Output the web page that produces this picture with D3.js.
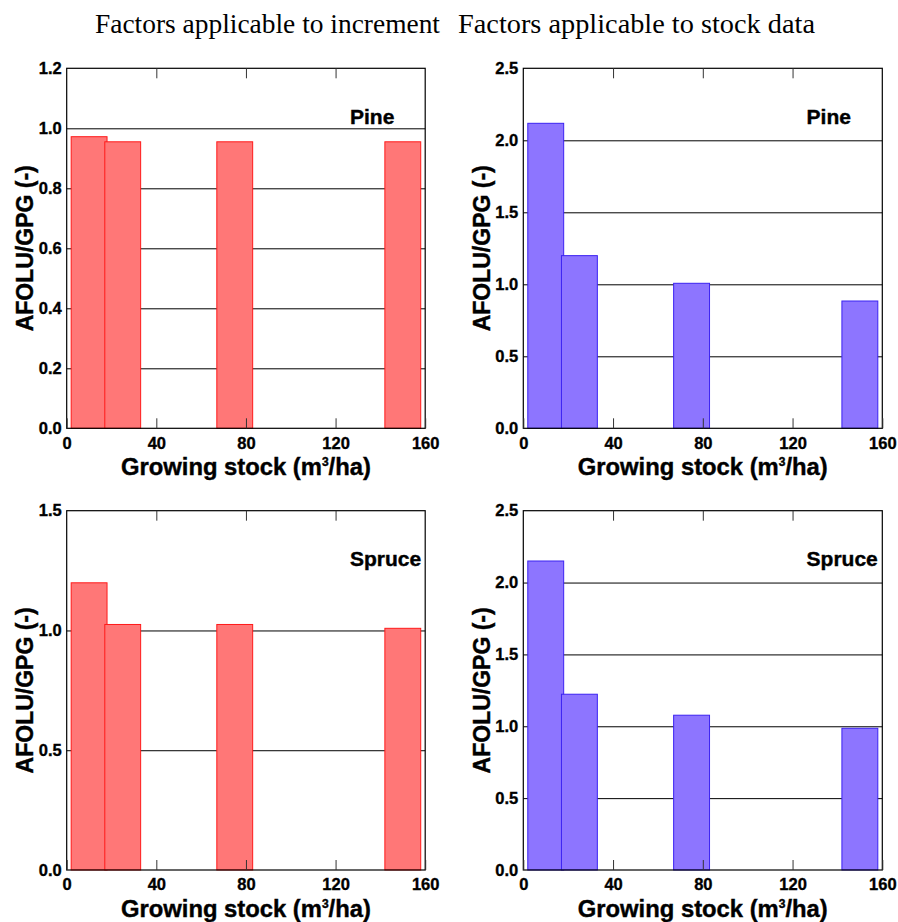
<!DOCTYPE html>
<html>
<head>
<meta charset="utf-8">
<script src="https://cdn.jsdelivr.net/npm/d3@7"></script>
<style>
  html, body { margin: 0; padding: 0; background: #fff; }
  svg { display: block; }
  .tick text { font-family: "Liberation Sans", Arial, sans-serif; font-weight: bold; font-size: 16.5px; fill: #000; stroke: #000; stroke-width: 0.35px; }
  .heavy { font-family: "Liberation Sans", Arial, sans-serif; font-weight: bold; fill: #000; stroke: #000; stroke-width: 0.4px; }
</style>
</head>
<body>
<svg id="chart" width="898" height="922"></svg>
<script>
// Growing stock classes (m3/ha): centre of each class bar
const stockClasses = [10, 25, 75, 150];
const classHalfWidth = 8;

// AFOLU/GPG ratio per growing stock class
const pineIncrement   = [0.972, 0.955, 0.955, 0.955];
const pineStock       = [2.118, 1.199, 1.007, 0.884];
const spruceIncrement = [1.199, 1.025, 1.025, 1.009];
const spruceStock     = [2.150, 1.223, 1.077, 0.986];

// Axis ticks
const xTicks = [0, 40, 80, 120, 160];
const yTicksPineIncrement = [0, 0.2, 0.4, 0.6, 0.8, 1.0, 1.2];
const yTicksHalf15 = [0, 0.5, 1.0, 1.5];
const yTicksHalf25 = [0, 0.5, 1.0, 1.5, 2.0, 2.5];

const columnTitles = ["Factors applicable to increment", "Factors applicable to stock data"];
const speciesNames = ["Pine", "Spruce"];

const svg = d3.select("#chart");

const redStyle  = { fill: "#ff7777", stroke: "#ff1a1a" };
const blueStyle = { fill: "#8d75ff", stroke: "#3b22f2" };

const panels = [
  { left: 66.7,  top: 68.3,  width: 358.5, height: 360,   values: pineIncrement,   yTicks: yTicksPineIncrement, species: speciesNames[0], style: redStyle },
  { left: 523.3, top: 68.3,  width: 359,   height: 360,   values: pineStock,       yTicks: yTicksHalf25,        species: speciesNames[0], style: blueStyle },
  { left: 66.7,  top: 510.7, width: 358.5, height: 359.3, values: spruceIncrement, yTicks: yTicksHalf15,        species: speciesNames[1], style: redStyle },
  { left: 523.3, top: 510.7, width: 359,   height: 359.3, values: spruceStock,     yTicks: yTicksHalf25,        species: speciesNames[1], style: blueStyle }
];

// Column titles
[{ x: 95, len: 345 }, { x: 458, len: 357 }].forEach((t, i) => {
  svg.append("text")
    .attr("x", t.x).attr("y", 33)
    .attr("textLength", t.len)
    .attr("lengthAdjust", "spacingAndGlyphs")
    .style("font-family", "'Liberation Serif', 'Times New Roman', serif")
    .style("font-size", "27.5px")
    .text(columnTitles[i]);
});

panels.forEach(p => {
  const g = svg.append("g").attr("transform", `translate(${p.left},${p.top})`);
  const yMax = p.yTicks[p.yTicks.length - 1];

  const x = d3.scaleLinear().domain([0, 160]).range([0, p.width]);
  const y = d3.scaleLinear().domain([0, yMax]).range([p.height, 0]);

  // horizontal grid lines behind the bars
  const grid = g.append("g")
    .call(d3.axisLeft(y).tickValues(p.yTicks.slice(1, -1)).tickSize(-p.width).tickFormat(""));
  grid.select(".domain").remove();
  grid.selectAll("line").attr("stroke", "#000").attr("stroke-width", 1);

  // class bars
  g.append("g").selectAll("rect")
    .data(stockClasses.map((c, i) => ({ c, v: p.values[i] })))
    .join("rect")
    .attr("x", d => x(d.c - classHalfWidth))
    .attr("width", d => x(d.c + classHalfWidth) - x(d.c - classHalfWidth))
    .attr("y", d => y(d.v))
    .attr("height", d => y(0) - y(d.v))
    .attr("fill", p.style.fill)
    .attr("stroke", p.style.stroke)
    .attr("stroke-width", 1);

  // frame
  g.append("rect")
    .attr("x", 0).attr("y", 0)
    .attr("width", p.width).attr("height", p.height)
    .attr("fill", "none").attr("stroke", "#000").attr("stroke-width", 1.2);

  // bottom axis: inward ticks with labels
  const xb = g.append("g").attr("transform", `translate(0,${p.height})`)
    .call(d3.axisBottom(x).tickValues(xTicks).tickSizeInner(-10).tickSizeOuter(0).tickPadding(8.5).tickFormat(d3.format("d")));
  xb.select(".domain").remove();
  xb.selectAll("line").attr("stroke", "#333");

  // top axis: inward ticks only
  const xt = g.append("g")
    .call(d3.axisTop(x).tickValues(xTicks.slice(1, -1)).tickSizeInner(-10).tickSizeOuter(0).tickFormat(""));
  xt.select(".domain").remove();
  xt.selectAll("line").attr("stroke", "#333");

  // left axis labels
  const yl = g.append("g")
    .call(d3.axisLeft(y).tickValues(p.yTicks).tickSize(0).tickPadding(5).tickFormat(d3.format(".1f")));
  yl.select(".domain").remove();

  // species label
  g.append("text")
    .attr("class", "heavy")
    .attr("x", 283.3).attr("y", 55.7)
    .style("font-size", "21px")
    .text(p.species);

  // y axis title
  g.append("text")
    .attr("class", "heavy")
    .attr("transform", `translate(-33.4,${p.height / 2}) rotate(-90)`)
    .attr("text-anchor", "middle")
    .style("font-size", "23px")
    .text("AFOLU/GPG (-)");

  // x axis title
  const xl = g.append("text")
    .attr("class", "heavy")
    .attr("x", p.width / 2).attr("y", p.height + 47)
    .attr("text-anchor", "middle")
    .style("font-size", "23.8px");
  xl.append("tspan").text("Growing stock (m");
  xl.append("tspan").attr("dy", -9).style("font-size", "12px").text("3");
  xl.append("tspan").attr("dy", 9).text("/ha)");
});
</script>
</body>
</html>
